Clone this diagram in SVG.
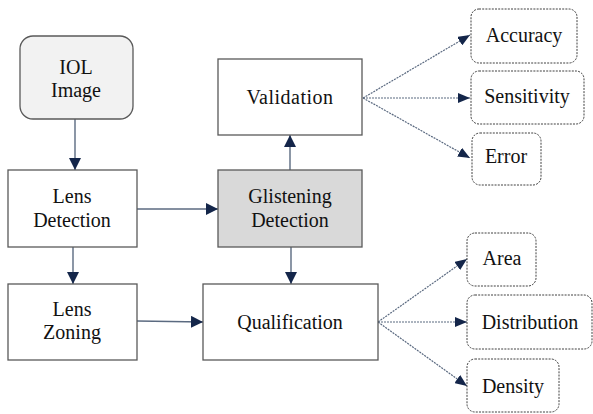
<svg xmlns="http://www.w3.org/2000/svg" width="593" height="414" viewBox="0 0 593 414">
<style>
  .box{fill:#ffffff;stroke:#595959;stroke-width:1.3}
  .gray{fill:#d9d9d9}
  .light{fill:#f2f2f2}
  .dash{fill:#ffffff;stroke:#404040;stroke-width:1;stroke-dasharray:2 1.2}
  .t{font-family:"Liberation Serif","Times New Roman","DejaVu Serif",serif;font-size:20px;fill:#111111;text-anchor:middle}
  .c{stroke:#5b6a80;stroke-width:1.4;fill:none}
  .d{stroke:#5b6a80;stroke-width:1.2;fill:none;stroke-dasharray:2 1}
</style>
<defs>
  <marker id="ah" markerWidth="12" markerHeight="12" viewBox="0 0 12 12" refX="12" refY="6" orient="auto" markerUnits="userSpaceOnUse">
    <path d="M0,0 L12,6 L0,12 Z" fill="#14264a"/>
  </marker>
  <marker id="ahs" markerWidth="12" markerHeight="10" viewBox="0 0 12 10" refX="12" refY="5" orient="auto" markerUnits="userSpaceOnUse">
    <path d="M0,0 L12,5 L0,10 Z" fill="#14264a"/>
  </marker>
</defs>
<g id="connectors">
  <line class="c" x1="75" y1="119" x2="75" y2="170" marker-end="url(#ah)"/>
  <line class="c" x1="73" y1="247" x2="73" y2="284" marker-end="url(#ah)"/>
  <line class="c" x1="137" y1="209" x2="218" y2="209" marker-end="url(#ah)"/>
  <line class="c" x1="137" y1="321" x2="203" y2="322" marker-end="url(#ah)"/>
  <line class="c" x1="291" y1="247" x2="291" y2="284" marker-end="url(#ah)"/>
  <line class="c" x1="290" y1="170" x2="290" y2="135" marker-end="url(#ah)"/>
  <line class="d" x1="363" y1="98" x2="470" y2="35" marker-end="url(#ahs)"/>
  <line class="d" x1="363" y1="98" x2="470" y2="98" marker-end="url(#ahs)"/>
  <line class="d" x1="363" y1="98" x2="470" y2="158" marker-end="url(#ahs)"/>
  <line class="d" x1="378" y1="322" x2="467" y2="259" marker-end="url(#ahs)"/>
  <line class="d" x1="378" y1="322" x2="467" y2="322" marker-end="url(#ahs)"/>
  <line class="d" x1="378" y1="322" x2="467" y2="386" marker-end="url(#ahs)"/>
</g>
<g id="iol-image">
  <rect class="box light" x="20" y="36" width="113" height="83" rx="13"/>
  <text class="t" x="76" y="74">IOL</text>
  <text class="t" x="76" y="97">Image</text>
</g>
<g id="lens-detection">
  <rect class="box" x="8" y="170" width="129" height="77"/>
  <text class="t" x="72" y="203">Lens</text>
  <text class="t" x="72" y="227">Detection</text>
</g>
<g id="lens-zoning">
  <rect class="box" x="8" y="284" width="129" height="76"/>
  <text class="t" x="72" y="316">Lens</text>
  <text class="t" x="72" y="339">Zoning</text>
</g>
<g id="glistening-detection">
  <rect class="box gray" x="218" y="170" width="144" height="77"/>
  <text class="t" x="290" y="203">Glistening</text>
  <text class="t" x="290" y="227">Detection</text>
</g>
<g id="validation">
  <rect class="box" x="218" y="59" width="144" height="76"/>
  <text class="t" x="290" y="104" letter-spacing="0.5">Validation</text>
</g>
<g id="qualification">
  <rect class="box" x="203" y="284" width="175" height="76"/>
  <text class="t" x="290" y="329">Qualification</text>
</g>
<g id="accuracy">
  <rect class="dash" x="471" y="9" width="106" height="54" rx="8"/>
  <text class="t" x="524" y="42">Accuracy</text>
</g>
<g id="sensitivity">
  <rect class="dash" x="471" y="71" width="113" height="53" rx="8"/>
  <text class="t" x="527" y="103">Sensitivity</text>
</g>
<g id="error">
  <rect class="dash" x="472" y="133" width="69" height="52" rx="8"/>
  <text class="t" x="506" y="163">Error</text>
</g>
<g id="area">
  <rect class="dash" x="467" y="233" width="69" height="53" rx="8"/>
  <text class="t" x="502" y="265">Area</text>
</g>
<g id="distribution">
  <rect class="dash" x="467" y="295" width="125" height="54" rx="8"/>
  <text class="t" x="530" y="329">Distribution</text>
</g>
<g id="density">
  <rect class="dash" x="467" y="359" width="92" height="53" rx="8"/>
  <text class="t" x="513" y="393">Density</text>
</g>
</svg>
